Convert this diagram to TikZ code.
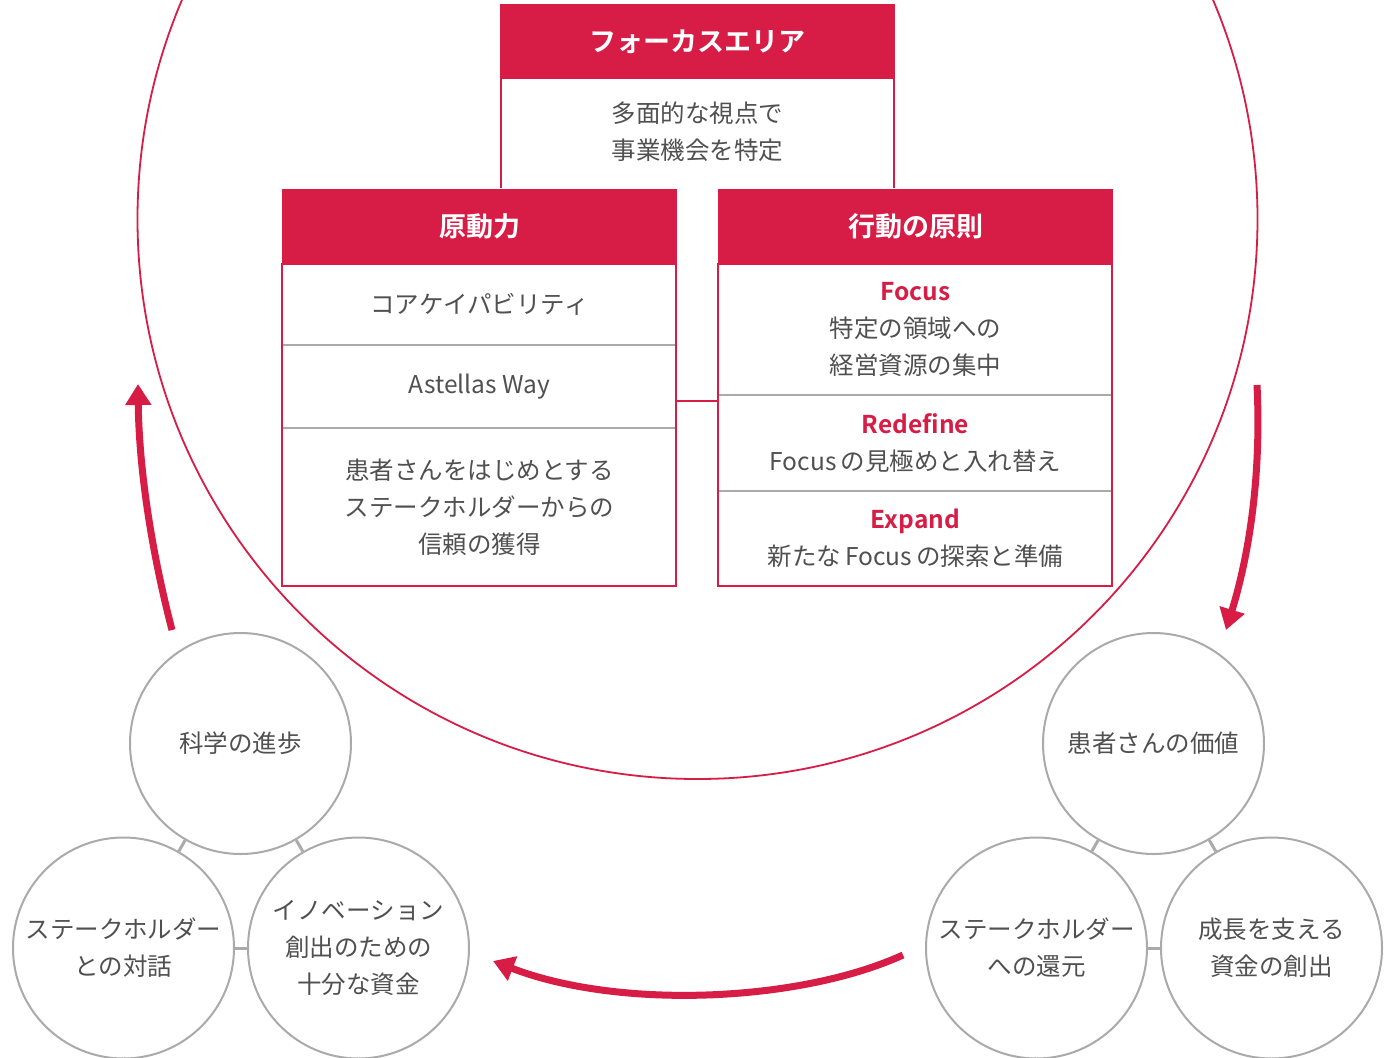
\documentclass[tikz,border=0pt]{standalone}
\usepackage{fontspec}
\setmainfont{Noto Sans CJK JP}[BoldFont={Noto Sans CJK JP Bold}]
\usetikzlibrary{arrows.meta}
\definecolor{ared}{HTML}{D71C46}
\definecolor{agray}{HTML}{505050}
\definecolor{lgray}{HTML}{AAAAAA}
\begin{document}
\begin{tikzpicture}[x=1pt,y=-1pt,
  hdr/.style={fill=ared,draw=ared,line width=2,text=white,
    font=\fontsize{27}{32}\selectfont\bfseries,minimum width=393,inner sep=0},
  rowbox/.style={minimum width=393,inner sep=0,text=agray,align=center,
    font=\fontsize{24.5}{37}\selectfont},
  outline/.style={draw=ared,line width=2},
  sep/.style={draw=lgray,line width=2},
  bub/.style={circle,draw=lgray,line width=2,minimum size=221,inner sep=0,
    text=agray,align=center,font=\fontsize{24.5}{37}\selectfont},
  link/.style={draw=lgray,line width=3},
  flow/.style={draw=ared,line width=7,-{Triangle[width=25pt,length=21pt]}}]
\useasboundingbox (0,0) rectangle (1393,1058);
\fill[white] (0,0) rectangle (1393,1058);
\begin{scope}
\clip (0,0) rectangle (1393,1058);
% big circle
\node[circle,draw=ared,line width=1.8,minimum size=1120,inner sep=0] (big) at (697.5,219) {};

% top box
\node[hdr,minimum height=73] (fh) at (697.5,41.5) {フォーカスエリア};
\node[rowbox,minimum height=112] (fb) at (697.5,132) {多面的な視点で\\事業機会を特定};
\draw[outline] (fb.north west) -- (fb.south west);
\draw[outline] (fb.north east) -- (fb.south east);

% left box
\node[hdr,minimum height=73] (lh) at (479.5,226.5) {原動力};
\node[rowbox,minimum height=82] (l1) at (479.5,304) {コアケイパビリティ};
\node[rowbox,minimum height=83] (l2) at (479.5,386.5) {Astellas Way};
\node[rowbox,minimum height=158] (l3) at (479.5,507) {患者さんをはじめとする\\ステークホルダーからの\\信頼の獲得};
\draw[sep] (l2.north west) -- (l2.north east);
\draw[sep] (l3.north west) -- (l3.north east);
\draw[outline] (lh.south west) rectangle (l3.south east);

% right box
\node[hdr,minimum height=73] (rh) at (915.5,226.5) {行動の原則};
\node[rowbox,minimum height=132] (r1) at (915.5,329) {{\color{ared}\bfseries Focus}\\特定の領域への\\経営資源の集中};
\node[rowbox,minimum height=96] (r2) at (915.5,443) {{\color{ared}\bfseries Redefine}\\Focus\,の見極めと入れ替え};
\node[rowbox,minimum height=95] (r3) at (915.5,538.5) {{\color{ared}\bfseries Expand}\\新たな\,Focus\,の探索と準備};
\draw[sep] (r2.north west) -- (r2.north east);
\draw[sep] (r3.north west) -- (r3.north east);
\draw[outline] (rh.south west) rectangle (r3.south east);

% link between boxes
\coordinate (mid) at (697.5,401);
\draw[outline] (l2.east |- mid) -- (r2.west |- mid);

% left circles
\node[bub] (s1) at (240.5,743.5) {科学の進歩};
\node[bub] (s2) at (123.5,948) {ステークホルダー\\との対話};
\node[bub] (s3) at (358.5,948) {イノベーション\\創出のための\\十分な資金};
\draw[link] (s1) -- (s2);
\draw[link] (s1) -- (s3);
\draw[link] (s2) -- (s3);

% right circles
\node[bub] (t1) at (1153.5,743.5) {患者さんの価値};
\node[bub] (t2) at (1036.5,948) {ステークホルダー\\への還元};
\node[bub] (t3) at (1271.5,948) {成長を支える\\資金の創出};
\draw[link] (t1) -- (t2);
\draw[link] (t1) -- (t3);
\draw[link] (t2) -- (t3);

% flow arrows
\coordinate (la) at (172,630);
\coordinate (lb) at (138,384);
\coordinate (ra) at (1257,385);
\coordinate (rb) at (1226,630);
\coordinate (ba) at (903,955);
\coordinate (bb) at (493,961);
\draw[flow] (la) .. controls (150,545) and (139,465) .. (lb);
\draw[flow] (ra) .. controls (1261,465) and (1252,545) .. (rb);
\draw[flow] (ba) .. controls (800,1002) and (620,1010) .. (bb);
\end{scope}
\end{tikzpicture}
\end{document}
